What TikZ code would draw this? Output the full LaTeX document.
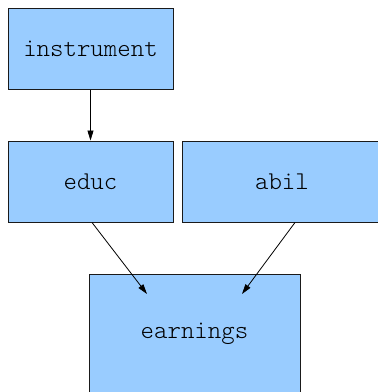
\documentclass[tikz,border=0pt]{standalone}
\usepackage{fontspec}
\setmonofont{Latin Modern Mono Light}
\usetikzlibrary{positioning,arrows.meta}
\definecolor{boxfill}{HTML}{99CCFF}
\definecolor{boxline}{HTML}{1A1A1A}

\begin{document}
\begin{tikzpicture}[
  x=1pt, y=-1pt,
  font=\ttfamily\fontsize{25.6}{30}\selectfont,
  >={Triangle[length=10pt,width=6pt]},
  var/.style={draw=boxline, fill=boxfill, line width=1pt, inner sep=0pt, minimum width=165pt, minimum height=81pt},
  arr/.style={->, line width=0.8pt},
]
\useasboundingbox (0,0) rectangle (378,392);
\clip (0,0) rectangle (378,392);
\node[var] (instrument) at (90.5,48.5) {instrument};
\node[var, below=51pt of instrument] (educ) {educ};
\node[var, right=8pt of educ, minimum width=200pt] (abil) {abil};
\node[var, minimum width=211pt, minimum height=120pt] (earnings) at (194.5,334) {earnings};
% arrow tips stop inside the outcome box
\coordinate (fromEduc) at (147,294);
\coordinate (fromAbil) at (242,294);
\draw[arr] (instrument) -- (educ);
\draw[arr] ([xshift=1.5pt]educ.south) -- (fromEduc);
\draw[arr] ([xshift=13pt]abil.south) -- (fromAbil);
\end{tikzpicture}
\end{document}
